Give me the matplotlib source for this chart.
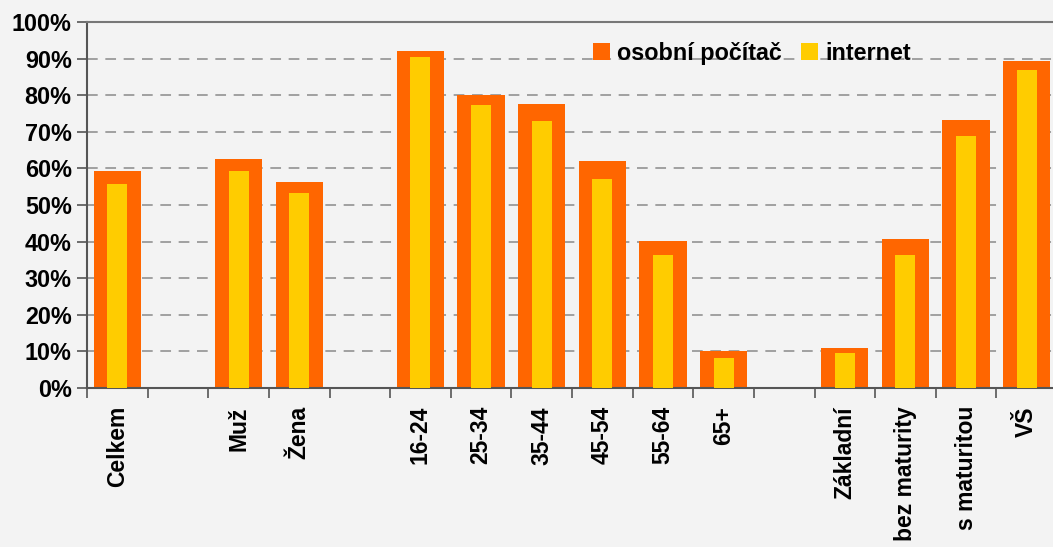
import matplotlib.pyplot as plt
import numpy as np

plt.rcParams['font.family'] = ['Liberation Sans', 'DejaVu Sans']

# categories, empty strings are the gaps between groups
categories = ["Celkem", "", "Muž", "Žena", "",
              "16-24", "25-34", "35-44", "45-54", "55-64", "65+", "",
              "Základní", "bez maturity", "s maturitou", "VŠ"]
pc = [59.3, np.nan, 62.5, 56.3, np.nan,
      92.1, 80.0, 77.6, 62.0, 40.2, 10.1, np.nan,
      10.9, 40.7, 73.2, 89.3]
internet = [55.7, np.nan, 59.3, 53.3, np.nan,
            90.4, 77.2, 73.0, 57.1, 36.3, 8.2, np.nan,
            9.6, 36.3, 68.9, 86.9]
yticks = [0, 10, 20, 30, 40, 50, 60, 70, 80, 90, 100]

orange = "#FF6600"
yellow = "#FFCC00"
bg = "#F3F3F3"

fig = plt.figure(figsize=(10.53, 5.47), dpi=100, facecolor=bg)
ax = fig.add_axes([87 / 1053, 159 / 547, 970 / 1053, 366 / 547])
ax.set_facecolor(bg)

x = np.arange(len(categories))
ax.bar(x, pc, width=0.78, color=orange, label="osobní počítač", zorder=2)
ax.bar(x, internet, width=0.33, color=yellow, label="internet", zorder=3)

ax.set_xlim(-0.5, len(categories) - 0.5)
ax.set_ylim(0, 100)
ax.set_yticks(yticks)
ax.set_yticklabels([f"{v}%" for v in yticks], fontsize=16.8, fontweight="bold")
ax.tick_params(axis="y", length=7, width=1.2, color="#555555", pad=4)

# ticks at group boundaries, labels at bar centres
ax.set_xticks(np.arange(len(categories) + 1) - 0.5)
ax.set_xticklabels([])
ax.tick_params(axis="x", which="major", length=7, width=1.2, color="#555555")
ax.set_xticks(x, minor=True)
ax.set_xticklabels(categories, minor=True, rotation=90, fontsize=16.5,
                   fontweight="bold", va="top")
ax.tick_params(axis="x", which="minor", length=0, pad=13)

for v in yticks[1:-1]:
    ax.axhline(v, color="#8A8A8A", lw=1.1, ls=(0, (7, 5)), zorder=1)

for s in ["left", "bottom", "top"]:
    ax.spines[s].set_color("#555555")
    ax.spines[s].set_linewidth(1.5)
ax.spines["top"].set_color("#777777")
ax.spines["right"].set_visible(False)

ax.legend(loc="upper left", bbox_to_anchor=(0.512, 0.971), ncol=2,
          frameon=False, prop={"size": 16.8, "weight": "bold"},
          handlelength=0.75, handleheight=0.75, handletextpad=0.3,
          columnspacing=0.8, borderaxespad=0)

fig.savefig("out.png", dpi=100, facecolor=bg)
